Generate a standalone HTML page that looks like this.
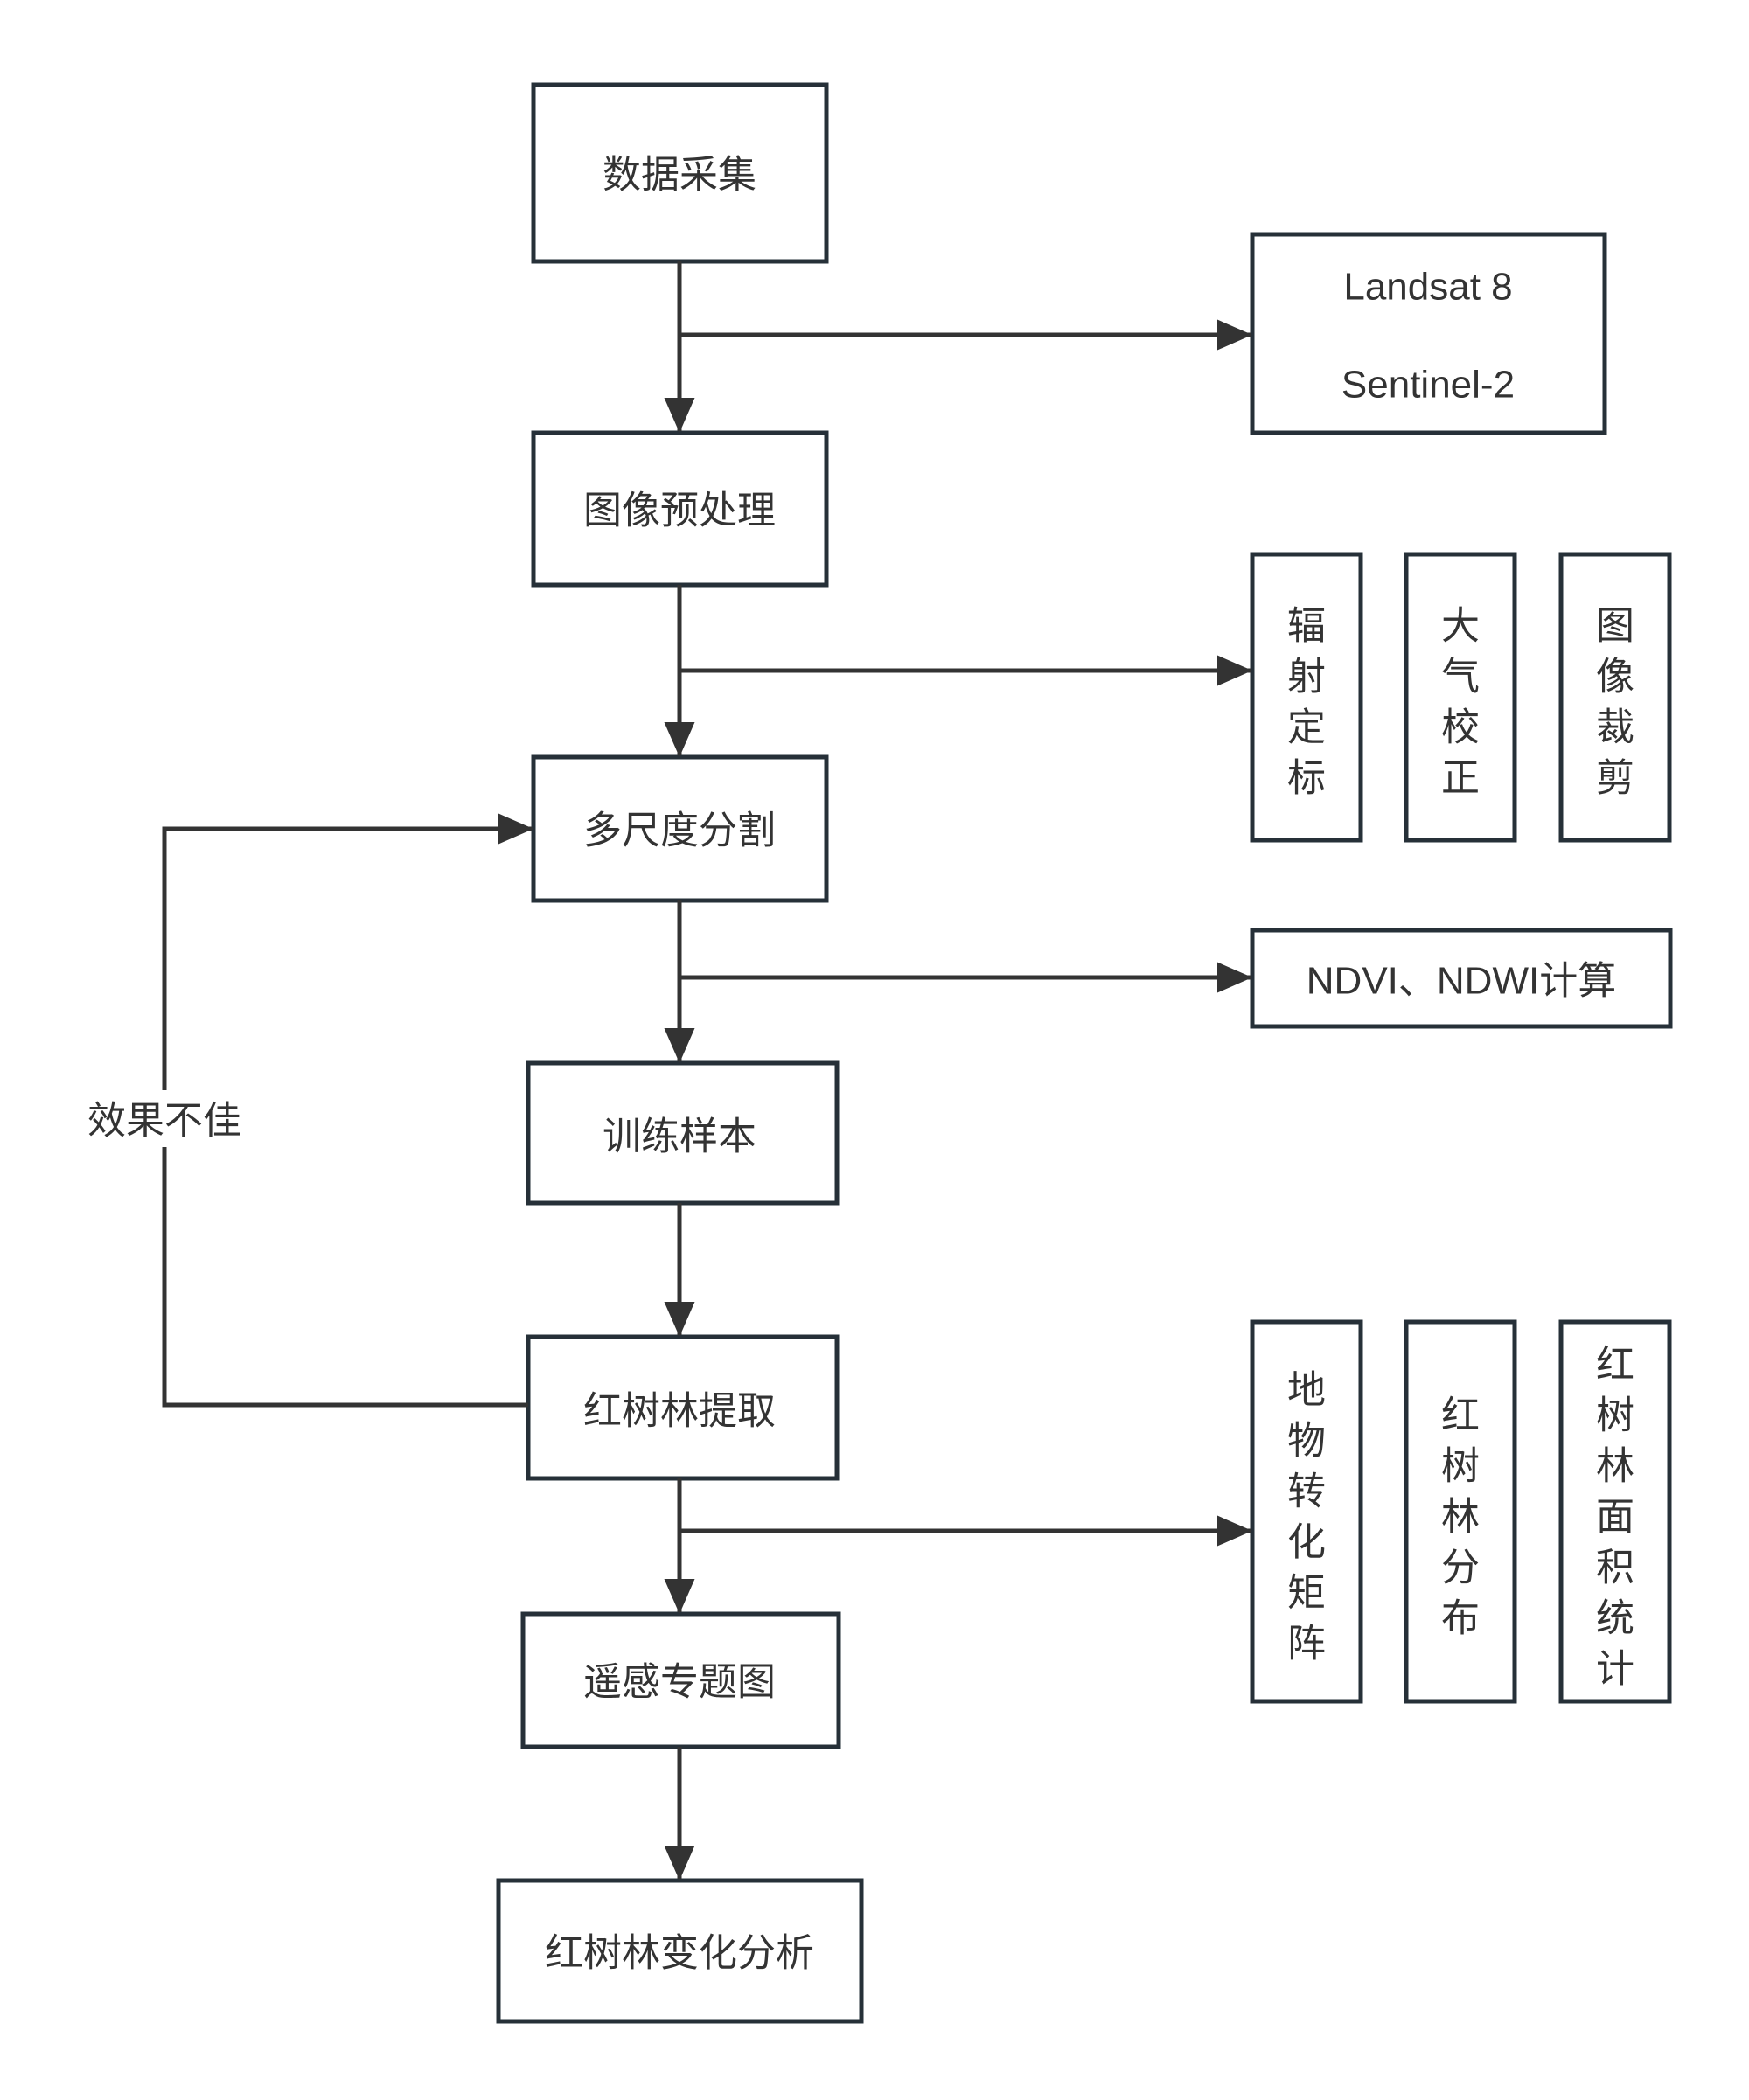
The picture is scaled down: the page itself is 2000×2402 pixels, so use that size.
<!DOCTYPE html>
<html><head><meta charset="utf-8"><style>
html,body{margin:0;padding:0;background:#fff;}
svg text{font-family:"Liberation Sans","Noto Sans CJK SC",sans-serif;fill:#333;}
</style></head><body>
<svg width="2000" height="2397" viewBox="0 0 2000 2397" xmlns="http://www.w3.org/2000/svg">
<defs>
<marker id="a" markerWidth="8" markerHeight="7" refX="7.6" refY="3.5" orient="auto" markerUnits="strokeWidth">
<path d="M0,0 L8,3.5 L0,7 z" fill="#333"/>
</marker>
</defs>
<g fill="#fff" stroke="#263038" stroke-width="5">
<rect x="610" y="97" width="335" height="202"/>
<rect x="1432" y="268" width="403" height="227"/>
<rect x="610" y="495" width="335" height="174"/>
<rect x="1432" y="634" width="124" height="327"/>
<rect x="1608" y="634" width="124" height="327"/>
<rect x="1785" y="634" width="124" height="327"/>
<rect x="610" y="866" width="335" height="164"/>
<rect x="1432" y="1064" width="478" height="110"/>
<rect x="604" y="1216" width="353" height="160"/>
<rect x="604" y="1529" width="353" height="162"/>
<rect x="1432" y="1512" width="124" height="434"/>
<rect x="1608" y="1512" width="124" height="434"/>
<rect x="1785" y="1512" width="124" height="434"/>
<rect x="598" y="1846" width="361" height="152"/>
<rect x="570" y="2151" width="415" height="161"/>
</g>
<g stroke="#333" stroke-width="5" fill="none">
<line x1="777" y1="299" x2="777" y2="493" marker-end="url(#a)"/>
<line x1="777" y1="383" x2="1430" y2="383" marker-end="url(#a)"/>
<line x1="777" y1="669" x2="777" y2="864" marker-end="url(#a)"/>
<line x1="777" y1="767" x2="1430" y2="767" marker-end="url(#a)"/>
<line x1="777" y1="1030" x2="777" y2="1214" marker-end="url(#a)"/>
<line x1="777" y1="1118" x2="1430" y2="1118" marker-end="url(#a)"/>
<line x1="777" y1="1376" x2="777" y2="1527" marker-end="url(#a)"/>
<line x1="777" y1="1691" x2="777" y2="1844" marker-end="url(#a)"/>
<line x1="777" y1="1751" x2="1430" y2="1751" marker-end="url(#a)"/>
<line x1="777" y1="1998" x2="777" y2="2149" marker-end="url(#a)"/>
<polyline points="604,1607 188,1607 188,1312"/>
<polyline points="188,1247 188,948 608,948" marker-end="url(#a)"/>
</g>
<g font-size="44" text-anchor="middle" dominant-baseline="central">
<text x="777" y="200">数据采集</text>
<text x="1633" y="328">Landsat 8</text>
<text x="1633" y="440">Sentinel-2</text>
<text x="777" y="584">图像预处理</text>
<text x="777" y="950">多尺度分割</text>
<text x="1671" y="1122">NDVI、NDWI计算</text>
<text x="777" y="1300">训练样本</text>
<text x="777" y="1614">红树林提取</text>
<text x="777" y="1924">遥感专题图</text>
<text x="777" y="2234">红树林变化分析</text>
<text x="188" y="1282">效果不佳</text>
</g>
<g font-size="44" text-anchor="middle" dominant-baseline="central">
<text x="1494" y="716">辐</text><text x="1494" y="774">射</text><text x="1494" y="832">定</text><text x="1494" y="890">标</text>
<text x="1670" y="716">大</text><text x="1670" y="774">气</text><text x="1670" y="832">校</text><text x="1670" y="890">正</text>
<text x="1847" y="716">图</text><text x="1847" y="774">像</text><text x="1847" y="832">裁</text><text x="1847" y="890">剪</text>
<text x="1494" y="1590">地</text><text x="1494" y="1648">物</text><text x="1494" y="1706">转</text><text x="1494" y="1764">化</text><text x="1494" y="1822">矩</text><text x="1494" y="1880">阵</text>
<text x="1670" y="1619">红</text><text x="1670" y="1677">树</text><text x="1670" y="1735">林</text><text x="1670" y="1793">分</text><text x="1670" y="1851">布</text>
<text x="1847" y="1561">红</text><text x="1847" y="1619">树</text><text x="1847" y="1677">林</text><text x="1847" y="1735">面</text><text x="1847" y="1793">积</text><text x="1847" y="1851">统</text><text x="1847" y="1909">计</text>
</g>
</svg>
</body></html>
